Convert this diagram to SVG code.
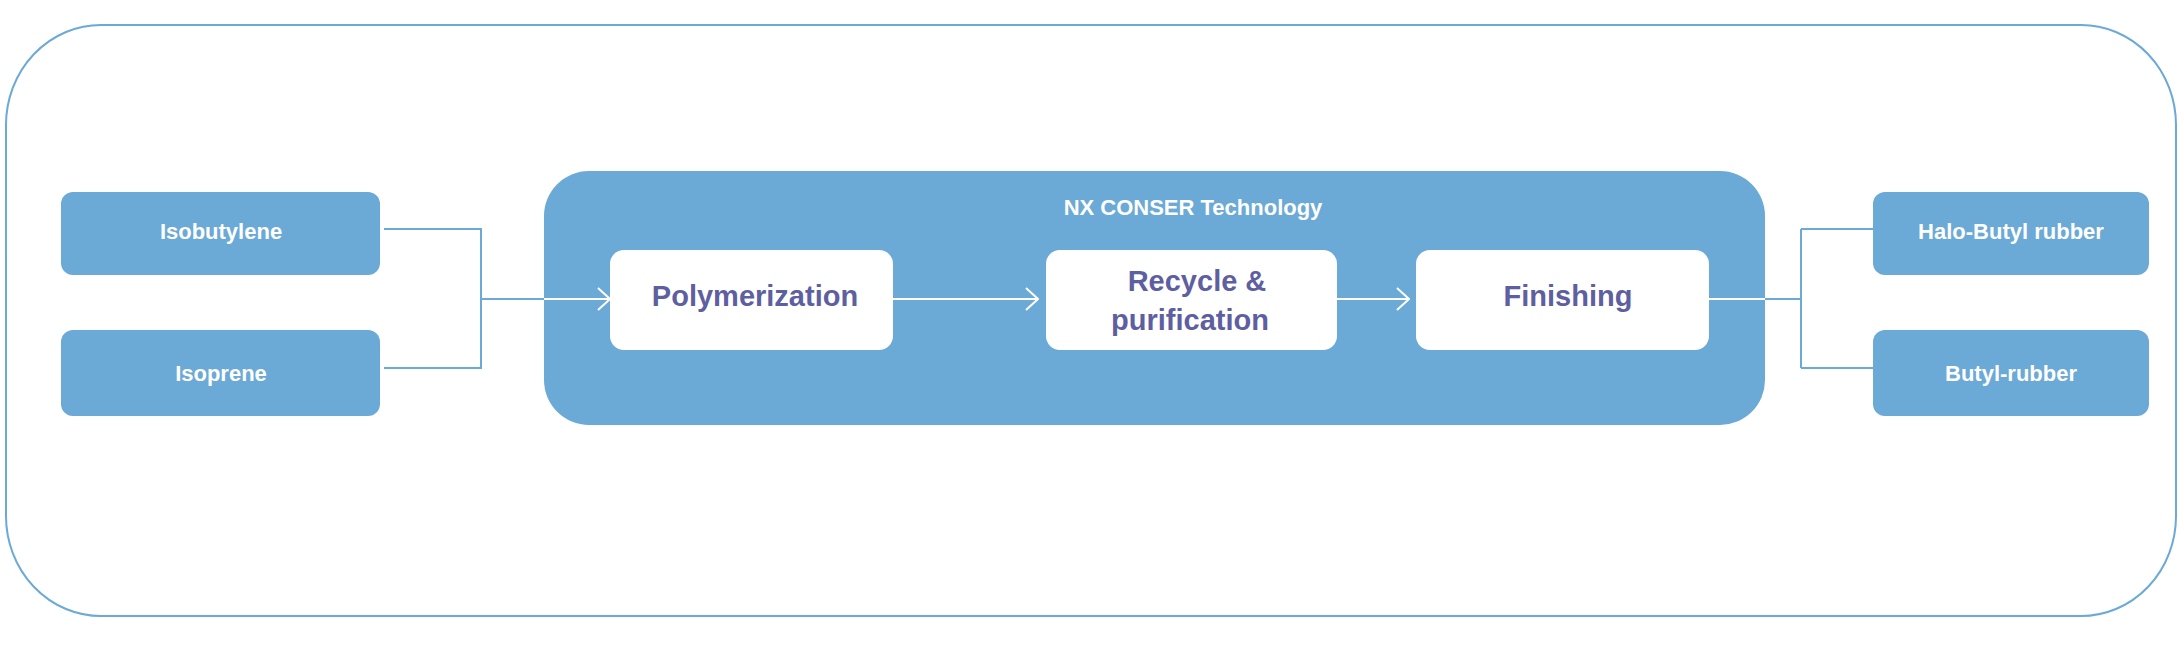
<svg xmlns="http://www.w3.org/2000/svg" width="2184" height="654" viewBox="0 0 2184 654">
<style>
.blue{fill:#6BA9D6}
.white{fill:#FFFFFF}
.lt{font-family:"Liberation Sans",Arial,sans-serif;font-weight:bold;fill:#FFFFFF;font-size:22px;text-anchor:middle}
.pt{font-family:"Liberation Sans",Arial,sans-serif;font-weight:bold;fill:#5E5FA0;font-size:29px;text-anchor:middle}
.ln{fill:none;stroke:#6BA9D6;stroke-width:2}
.wl{fill:none;stroke:#FFFFFF;stroke-width:2}
</style>
<defs>
<marker id="ah" markerWidth="14" markerHeight="24" refX="13" refY="12" orient="auto" markerUnits="userSpaceOnUse">
<path d="M1,1 L13,12 L1,23" fill="none" stroke="#FFFFFF" stroke-width="2"/>
</marker>
</defs>
<rect x="6" y="25" width="2170" height="591" rx="95" ry="100" fill="#FFFFFF" stroke="#6BA9D6" stroke-width="2"/>
<g id="tech">
<rect class="blue" x="544" y="171" width="1221" height="254" rx="45"/>
<text class="lt" x="1193" y="215">NX CONSER Technology</text>
</g>
<g id="isobutylene"><rect class="blue" x="61" y="192" width="319" height="83" rx="12"/><text class="lt" x="221" y="239">Isobutylene</text></g>
<g id="isoprene"><rect class="blue" x="61" y="330" width="319" height="86" rx="12"/><text class="lt" x="221" y="381">Isoprene</text></g>
<g id="polymerization"><rect class="white" x="610" y="250" width="283" height="100" rx="14"/><text class="pt" x="755" y="306">Polymerization</text></g>
<g id="recycle"><rect class="white" x="1046" y="250" width="291" height="100" rx="14"/><text class="pt" x="1197" y="291">Recycle &amp;</text><text class="pt" x="1190" y="330">purification</text></g>
<g id="finishing"><rect class="white" x="1416" y="250" width="293" height="100" rx="14"/><text class="pt" x="1568" y="306">Finishing</text></g>
<g id="halo"><rect class="blue" x="1873" y="192" width="276" height="83" rx="12"/><text class="lt" x="2011" y="239">Halo-Butyl rubber</text></g>
<g id="butyl"><rect class="blue" x="1873" y="330" width="276" height="86" rx="12"/><text class="lt" x="2011" y="381">Butyl-rubber</text></g>
<g id="connectors">
<path class="ln" d="M384,229 H481 V368 H384 M481,299 H544"/>
<path class="wl" d="M544,299 H610" marker-end="url(#ah)"/>
<path class="wl" d="M893,299 H1038" marker-end="url(#ah)"/>
<path class="wl" d="M1337,299 H1409" marker-end="url(#ah)"/>
<path class="wl" d="M1709,299 H1765"/>
<path class="ln" d="M1765,299 H1801 M1801,229 V368 M1801,229 H1873 M1801,368 H1873"/>
</g>
</svg>
